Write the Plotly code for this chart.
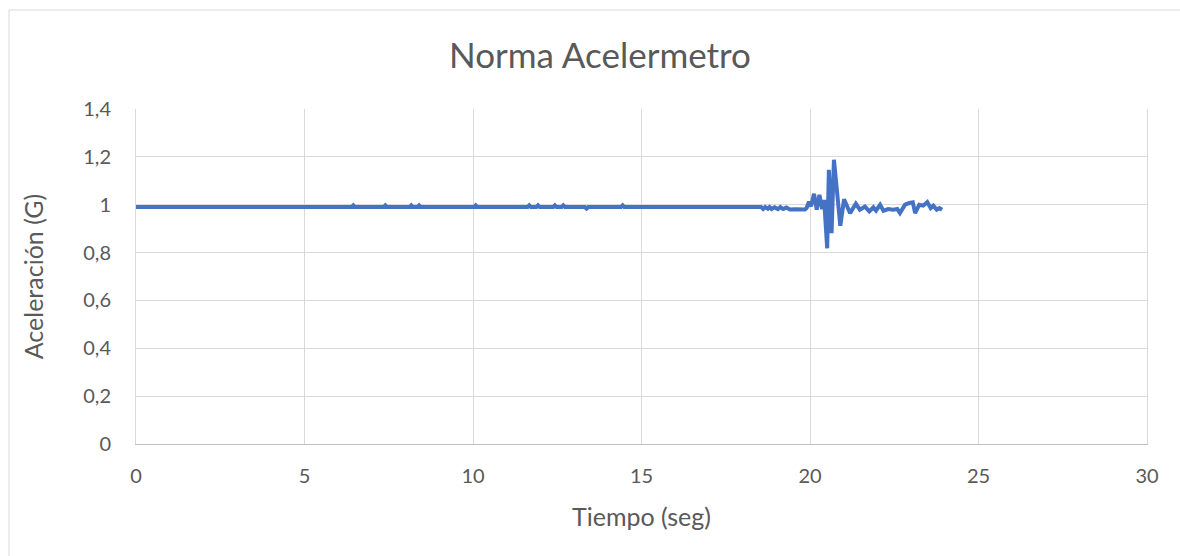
import plotly.graph_objects as go

# Data
tiempo = [0.0, 6.40, 6.45, 6.50, 7.35, 7.40, 7.45, 8.12, 8.17, 8.22, 8.35, 8.40, 8.45,
          10.03, 10.08, 10.13, 11.62, 11.67, 11.72, 11.88, 11.93, 11.98, 12.38, 12.43, 12.48,
          12.63, 12.68, 12.73, 13.32, 13.37, 13.42, 14.39, 14.44, 14.49,
          18.55, 18.61, 18.67, 18.75, 18.80, 18.86, 18.95, 19.05, 19.12, 19.20, 19.30,
          19.40, 19.55, 19.70, 19.85, 19.90, 19.97, 20.03, 20.12, 20.20, 20.28, 20.36,
          20.42, 20.51, 20.56, 20.64, 20.71, 20.90, 21.01, 21.19, 21.36, 21.48, 21.63,
          21.76, 21.88, 21.96, 22.08, 22.18, 22.32, 22.47, 22.59, 22.67, 22.82, 22.95,
          23.05, 23.12, 23.24, 23.36, 23.48, 23.58, 23.66, 23.76, 23.84, 23.92]
norma = [0.990, 0.990, 0.997, 0.990, 0.990, 0.997, 0.990, 0.990, 0.997, 0.990, 0.990, 0.997, 0.990,
         0.990, 0.997, 0.990, 0.990, 0.997, 0.990, 0.990, 0.997, 0.990, 0.990, 0.997, 0.990,
         0.990, 0.997, 0.990, 0.990, 0.984, 0.990, 0.990, 0.997, 0.990,
         0.990, 0.982, 0.990, 0.983, 0.990, 0.982, 0.989, 0.982, 0.990, 0.982, 0.988,
         0.980, 0.981, 0.979, 0.980, 0.986, 1.013, 0.993, 1.046, 0.979, 1.041, 0.982,
         1.020, 0.818, 1.146, 0.881, 1.188, 0.912, 1.023, 0.965, 1.004, 0.979, 0.992,
         0.972, 0.989, 0.975, 1.000, 0.975, 0.982, 0.979, 0.982, 0.965, 1.000, 1.007,
         1.010, 0.965, 1.000, 0.996, 1.011, 0.986, 0.996, 0.979, 0.986, 0.979]

x_ticks = [0, 5, 10, 15, 20, 25, 30]
y_ticks = [0, 0.2, 0.4, 0.6, 0.8, 1.0, 1.2, 1.4]
y_tick_labels = ["0", "0,2", "0,4", "0,6", "0,8", "1", "1,2", "1,4"]

TXT = "#595959"
GRID = "#D9D9D9"
FONT = "Lato"

fig = go.Figure()
fig.add_trace(go.Scatter(
    x=tiempo, y=norma, mode="lines",
    line=dict(color="#4472C4", width=4),
    showlegend=False,
))

fig.update_layout(
    width=1180, height=556,
    margin=dict(l=136, r=33, t=109, b=112),
    paper_bgcolor="white", plot_bgcolor="white",
    font=dict(family=FONT, color=TXT, size=20),
    title=dict(text="Norma Acelermetro", x=(600 - 136) / 1011, xref="paper", xanchor="center",
               y=1 - 56 / 556, yref="container", yanchor="middle",
               font=dict(family=FONT, size=35, color=TXT)),
    xaxis=dict(range=[0, 30], tickvals=x_ticks, ticktext=[str(v) for v in x_ticks],
               showgrid=True, gridcolor=GRID, gridwidth=1, zeroline=False,
               showline=True, linecolor="#BFBFBF", linewidth=1,
               ticks="outside", ticklen=14, tickcolor="rgba(0,0,0,0)",
               tickfont=dict(family=FONT, size=20, color=TXT),
               title=dict(text="Tiempo (seg)", standoff=22,
                          font=dict(family=FONT, size=25, color=TXT))),
    yaxis=dict(range=[0, 1.4], tickvals=y_ticks, ticktext=y_tick_labels,
               showgrid=True, gridcolor=GRID, gridwidth=1, zeroline=False,
               showline=True, linecolor=GRID, linewidth=1, mirror=True,
               ticks="outside", ticklen=20, tickcolor="rgba(0,0,0,0)",
               tickfont=dict(family=FONT, size=20, color=TXT),
               title=dict(text="Aceleración (G)", standoff=32,
                          font=dict(family=FONT, size=25, color=TXT))),
    shapes=[
        dict(type="line", xref="paper", yref="paper",
             x0=(9 - 136) / 1011, x1=(9 - 136) / 1011, y0=-0.5, y1=(444 - 10) / 335,
             line=dict(color=GRID, width=1)),
        dict(type="line", xref="paper", yref="paper",
             x0=(9 - 136) / 1011, x1=1.2, y0=(444 - 10) / 335, y1=(444 - 10) / 335,
             line=dict(color=GRID, width=1)),
    ],
)

fig.write_html("out.html")
